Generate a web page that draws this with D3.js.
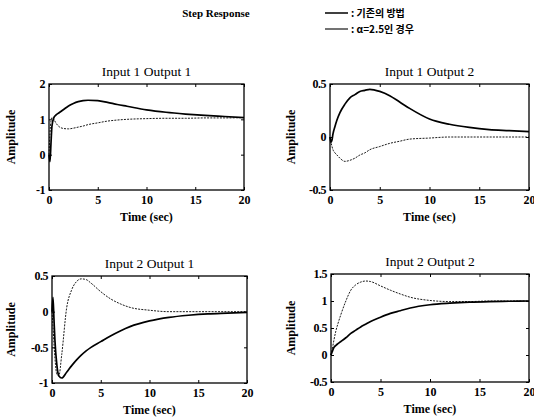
<!DOCTYPE html>
<html>
<head>
<meta charset="utf-8">
<script src="https://cdn.jsdelivr.net/npm/d3@7"></script>
<style>
  body { margin: 0; background: #fff; }
  svg text { font-family: 'Liberation Serif', 'Times New Roman', serif; fill: #000; }
</style>
</head>
<body>
<div id="chart"></div>
<script>
// sample times (sec), shared by every response curve
const times = [0, 0.1, 0.2, 0.3, 0.5, 0.7, 1, 1.5, 2, 2.5, 3, 3.5, 4, 5, 6, 7, 8, 10, 12, 14, 16, 18, 20];

// "기존의 방법" (conventional) vs "α=2.5인 경우"
const conv11 = [0, -0.2, 0.3, 0.8, 1.05, 1.12, 1.18, 1.28, 1.38, 1.45, 1.5, 1.53, 1.54, 1.53, 1.48, 1.42, 1.37, 1.27, 1.2, 1.15, 1.11, 1.08, 1.05];
const alpha11 = [0, 0.6, 0.95, 1.05, 1.0, 0.9, 0.8, 0.74, 0.73, 0.75, 0.78, 0.81, 0.85, 0.9, 0.95, 0.98, 1.0, 1.02, 1.03, 1.03, 1.04, 1.04, 1.05];

const conv12 = [0, -0.05, -0.03, 0.03, 0.1, 0.16, 0.23, 0.31, 0.37, 0.4, 0.43, 0.44, 0.45, 0.43, 0.39, 0.33, 0.27, 0.17, 0.12, 0.09, 0.07, 0.06, 0.05];
const alpha12 = [0, -0.05, -0.09, -0.12, -0.15, -0.17, -0.2, -0.23, -0.22, -0.2, -0.17, -0.15, -0.12, -0.09, -0.06, -0.04, -0.02, -0.01, 0, 0, 0, 0, 0];

const conv21 = [0, 0.2, -0.1, -0.4, -0.75, -0.9, -0.93, -0.85, -0.76, -0.68, -0.61, -0.55, -0.5, -0.42, -0.34, -0.27, -0.21, -0.13, -0.08, -0.05, -0.03, -0.02, -0.01];
const alpha21 = [0, -0.2, -0.45, -0.65, -0.88, -0.9, -0.6, 0.05, 0.3, 0.42, 0.46, 0.45, 0.4, 0.28, 0.18, 0.11, 0.06, 0.02, 0, 0, 0, 0, 0];

const conv22 = [0, 0.05, 0.1, 0.14, 0.18, 0.21, 0.25, 0.32, 0.4, 0.46, 0.52, 0.57, 0.62, 0.7, 0.77, 0.82, 0.87, 0.93, 0.96, 0.98, 0.99, 0.995, 1.0];
const alpha22 = [0, 0.08, 0.18, 0.28, 0.45, 0.58, 0.75, 1.0, 1.2, 1.3, 1.35, 1.37, 1.36, 1.28, 1.2, 1.13, 1.07, 1.01, 0.99, 0.99, 1.0, 1.0, 1.0];

const xTicks = [0, 5, 10, 15, 20];
const titles = ['Input 1 Output 1', 'Input 1 Output 2', 'Input 2 Output 1', 'Input 2 Output 2'];
const yDomains = [[-1, 2], [-0.5, 0.5], [-1, 0.5], [-0.5, 1.5]];
const yTicks = [[-1, 0, 1, 2], [-0.5, 0, 0.5], [-1, -0.5, 0, 0.5], [-0.5, 0, 0.5, 1, 1.5]];
const legendLabels = [': 기존의 방법', ': α=2.5인 경우'];

const width = 534;
const height = 419;

const svg = d3.select('#chart').append('svg')
  .attr('width', width)
  .attr('height', height);

// plot boxes [left, top, right, bottom]
const boxes = [
  [49, 84, 244, 190],
  [330, 84, 529, 190],
  [52, 276, 247, 383],
  [331, 274, 529, 382],
];
const series = [[conv11, alpha11], [conv12, alpha12], [conv21, alpha21], [conv22, alpha22]];

boxes.forEach((b, i) => {
  const [x0, y0, x1, y1] = b;
  const x = d3.scaleLinear().domain([0, 20]).range([x0, x1]);
  const y = d3.scaleLinear().domain(yDomains[i]).range([y1, y0]);
  const g = svg.append('g');

  // axes with inward ticks on all four sides
  const ax = (axis, tr) => g.append('g').attr('transform', tr).call(axis)
    .call(s => s.select('.domain').remove())
    .call(s => s.selectAll('line').attr('stroke', '#000').attr('stroke-width', 1));

  ax(d3.axisBottom(x).tickValues(xTicks).tickSizeInner(-3).tickSizeOuter(0).tickPadding(5).tickFormat(d3.format('d')), `translate(0,${y1})`)
    .selectAll('text').attr('font-size', 12).attr('font-weight', 'bold');
  ax(d3.axisTop(x).tickValues(xTicks).tickSizeInner(-3).tickSizeOuter(0).tickFormat(''), `translate(0,${y0})`);
  ax(d3.axisLeft(y).tickValues(yTicks[i]).tickSizeInner(-3).tickSizeOuter(0).tickPadding(4).tickFormat(d => String(d)), `translate(${x0},0)`)
    .selectAll('text').attr('font-size', 12).attr('font-weight', 'bold').attr('letter-spacing', -0.5);
  ax(d3.axisRight(y).tickValues(yTicks[i]).tickSizeInner(-3).tickSizeOuter(0).tickFormat(''), `translate(${x1},0)`);

  g.append('rect')
    .attr('x', x0).attr('y', y0)
    .attr('width', x1 - x0).attr('height', y1 - y0)
    .attr('fill', 'none').attr('stroke', '#000').attr('stroke-width', 1.3);

  const line = d3.line()
    .x((d, k) => x(times[k]))
    .y(d => y(d))
    .curve(d3.curveMonotoneX);

  g.append('path')
    .attr('d', line(series[i][1]))
    .attr('fill', 'none').attr('stroke', '#000')
    .attr('stroke-width', 0.9).attr('stroke-dasharray', '2,1.2');

  g.append('path')
    .attr('d', line(series[i][0]))
    .attr('fill', 'none').attr('stroke', '#000')
    .attr('stroke-width', 1.7);

  g.append('text')
    .attr('x', (x0 + x1) / 2).attr('y', y0 - 8)
    .attr('text-anchor', 'middle').attr('font-size', 13.5)
    .text(titles[i]);

  g.append('text')
    .attr('x', (x0 + x1) / 2).attr('y', y1 + 31)
    .attr('text-anchor', 'middle').attr('font-size', 12)
    .attr('font-weight', 'bold')
    .text('Time (sec)');

  g.append('text')
    .attr('transform', `translate(${i % 2 === 0 ? 15 : 295},${(y0 + y1) / 2}) rotate(-90)`)
    .attr('text-anchor', 'middle').attr('font-size', 12)
    .attr('font-weight', 'bold')
    .text('Amplitude');
});

svg.append('text')
  .attr('x', 216).attr('y', 17)
  .attr('text-anchor', 'middle').attr('font-size', 11)
  .attr('font-weight', 'bold')
  .text('Step Response');

const legend = svg.append('g');
legendLabels.forEach((lab, k) => {
  const ly = 13 + k * 16;
  legend.append('line')
    .attr('x1', 325).attr('x2', 348).attr('y1', ly).attr('y2', ly)
    .attr('stroke', '#000').attr('stroke-width', k === 0 ? 1.5 : 1.1);
  legend.append('text')
    .attr('x', 351).attr('y', ly + 4)
    .attr('font-size', 10).attr('font-weight', 'bold')
    .style('font-family', "'Noto Sans CJK KR', sans-serif")
    .text(lab);
});
</script>
</body>
</html>
